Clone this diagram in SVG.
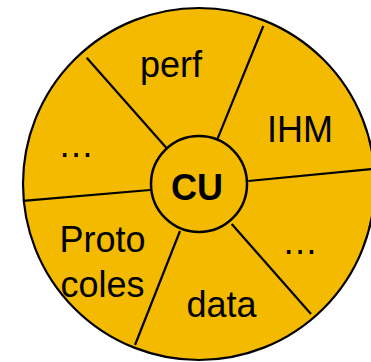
<svg xmlns="http://www.w3.org/2000/svg" width="371" height="362" viewBox="0 0 371 362">
<style>
.txt{font-family:"Liberation Sans",Arial,sans-serif;font-size:36px;fill:#000;text-anchor:middle}
.b{font-weight:bold}
.ln{stroke:#000;stroke-width:2.2;fill:none}
</style>
<rect width="371" height="362" fill="#fff"/>
<g id="outer">
<circle cx="199" cy="184" r="176" fill="#F3BA00" stroke="#000" stroke-width="2.2"/>
</g>
<g id="connectors">
<line class="ln" x1="86.7" y1="57.7" x2="166.7" y2="148.3"/>
<line class="ln" x1="263.3" y1="26" x2="217.3" y2="139.3"/>
<line class="ln" x1="248.3" y1="181" x2="372" y2="169"/>
<line class="ln" x1="231.7" y1="224" x2="311" y2="314"/>
<line class="ln" x1="180" y1="231" x2="135" y2="345"/>
<line class="ln" x1="23" y1="200.8" x2="150" y2="190"/>
</g>
<g id="cu">
<circle cx="199" cy="184" r="48" fill="#F3BA00" stroke="#000" stroke-width="2.5"/>
<text class="txt b" x="197" y="200">CU</text>
</g>
<g id="perf"><text class="txt" x="171" y="77">perf</text></g>
<g id="ihm"><text class="txt" x="300" y="141.7">IHM</text></g>
<g id="dots1"><text class="txt" x="76" y="157">…</text></g>
<g id="dots2"><text class="txt" x="300" y="253.5">…</text></g>
<g id="protocoles"><text class="txt" x="102.5" y="251.7">Proto</text><text class="txt" x="102.5" y="296.7">coles</text></g>
<g id="data"><text class="txt" x="221.5" y="316.7">data</text></g>
</svg>
